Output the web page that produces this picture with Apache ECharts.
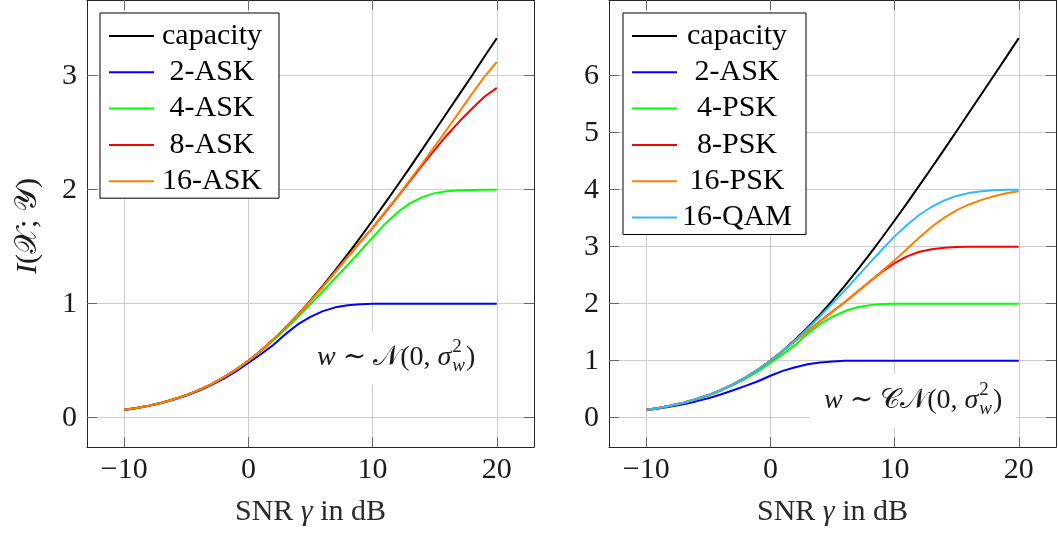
<!DOCTYPE html>
<html>
<head>
<meta charset="utf-8">
<script src="https://cdn.jsdelivr.net/npm/echarts@6/dist/echarts.min.js"></script>
<style>
  html, body { margin: 0; padding: 0; background: #fff; }
  #chart { width: 1058px; height: 534px; }
</style>
</head>
<body>
<div id="chart"></div>
<script>
// SNR grid in dB
const snrDb = [-10,-9,-8,-7,-6,-5,-4,-3,-2,-1,0,1,2,3,4,5,6,7,8,9,10,11,12,13,14,15,16,17,18,19,20];

// Real-valued AWGN channel, w ~ N(0, sigma_w^2)
const realCapacity = [0.069,0.086,0.106,0.131,0.162,0.198,0.242,0.293,0.353,0.422,0.500,
  0.588,0.685,0.791,0.906,1.029,1.158,1.294,1.435,1.580,1.730,
  1.882,2.037,2.194,2.354,2.515,2.677,2.838,3.000,3.166,3.329];
const real2ASK = [0.068,0.085,0.105,0.129,0.159,0.194,0.236,0.285,0.341,0.406,0.480,
  0.557,0.638,0.735,0.820,0.885,0.935,0.968,0.987,0.996,0.999,
  1.000,1.000,1.000,1.000,1.000,1.000,1.000,1.000,1.000,1.000];
const real4ASK = [0.069,0.086,0.106,0.131,0.162,0.198,0.242,0.293,0.352,0.420,0.497,
  0.583,0.677,0.778,0.885,0.995,1.110,1.225,1.340,1.460,1.580,
  1.700,1.800,1.880,1.935,1.970,1.987,1.995,1.998,2.000,2.000];
const real8ASK = [0.069,0.086,0.106,0.131,0.162,0.198,0.242,0.293,0.353,0.422,0.500,
  0.588,0.685,0.790,0.904,1.025,1.150,1.280,1.410,1.540,1.665,
  1.800,1.935,2.075,2.215,2.350,2.480,2.600,2.710,2.815,2.893];
const real16ASK = [0.069,0.086,0.106,0.131,0.162,0.198,0.242,0.293,0.353,0.422,0.500,
  0.588,0.685,0.790,0.904,1.025,1.150,1.280,1.410,1.540,1.665,
  1.805,1.940,2.085,2.230,2.380,2.530,2.685,2.840,2.990,3.120];

// Complex AWGN channel, w ~ CN(0, sigma_w^2)
const cplxCapacity = [0.138,0.171,0.212,0.262,0.323,0.396,0.483,0.586,0.706,0.843,1.000,
  1.175,1.370,1.582,1.812,2.057,2.316,2.588,2.870,3.160,3.459,
  3.764,4.074,4.388,4.707,5.028,5.353,5.677,6.002,6.330,6.658];
const cplx2ASK = [0.129,0.159,0.194,0.236,0.285,0.341,0.406,0.480,0.557,0.638,0.735,
  0.820,0.885,0.935,0.968,0.987,0.996,0.999,1.000,1.000,1.000,
  1.000,1.000,1.000,1.000,1.000,1.000,1.000,1.000,1.000,1.000];
const cplx4PSK = [0.136,0.170,0.210,0.258,0.318,0.388,0.472,0.570,0.682,0.812,0.960,
  1.114,1.276,1.470,1.640,1.770,1.870,1.936,1.974,1.992,1.998,
  2.000,2.000,2.000,2.000,2.000,2.000,2.000,2.000,2.000,2.000];
const cplx8PSK = [0.138,0.171,0.212,0.262,0.323,0.396,0.483,0.585,0.704,0.840,0.995,
  1.170,1.345,1.520,1.690,1.860,2.030,2.210,2.390,2.560,2.710,
  2.830,2.910,2.955,2.980,2.993,2.998,3.000,3.000,3.000,3.000];
const cplx16PSK = [0.138,0.171,0.212,0.262,0.323,0.396,0.483,0.585,0.704,0.840,0.995,
  1.170,1.345,1.520,1.690,1.860,2.030,2.210,2.390,2.575,2.760,
  2.960,3.160,3.350,3.510,3.640,3.740,3.820,3.885,3.935,3.970];
const cplx16QAM = [0.138,0.171,0.212,0.262,0.323,0.396,0.483,0.586,0.705,0.842,0.997,
  1.170,1.360,1.565,1.780,2.005,2.235,2.475,2.715,2.950,3.180,
  3.380,3.560,3.700,3.810,3.890,3.940,3.970,3.990,3.997,4.000];

// Tick labels
const xTicks = [-10, 0, 10, 20];
const yTicksReal = [0, 1, 2, 3];
const yTicksCplx = [0, 1, 2, 3, 4, 5, 6];

const leftNames = ['capacity', '2-ASK', '4-ASK', '8-ASK', '16-ASK'];
const rightNames = ['capacity', '2-ASK', '4-PSK', '8-PSK', '16-PSK', '16-QAM'];
const leftData = [realCapacity, real2ASK, real4ASK, real8ASK, real16ASK];
const rightData = [cplxCapacity, cplx2ASK, cplx4PSK, cplx8PSK, cplx16PSK, cplx16QAM];

const leftColors = ['#000000', '#0000ff', '#00ff00', '#ff0000', '#ff8000'];
const rightColors = ['#000000', '#0000ff', '#00ff00', '#ff0000', '#ff8000', '#33bbee'];

const FONT = "'Liberation Serif', 'DejaVu Serif', serif";
const FS = 30;
const TEXT = '#1a1a1a';

const fmtNum = v => String(v).replace('-', '\u2212');

function pairs(ys) { return snrDb.map((x, i) => [x, ys[i]]); }

function bottomAxis(gridIndex) {
  return {
    type: 'value', gridIndex, min: -13, max: 23, position: 'bottom',
    axisLine: { show: true, onZero: false, lineStyle: { color: '#262626', width: 1 } },
    axisTick: { show: true, inside: true, length: 10, customValues: xTicks, lineStyle: { color: '#666', width: 1 } },
    axisLabel: { customValues: xTicks, formatter: fmtNum, margin: 8, color: TEXT, fontFamily: FONT, fontSize: FS },
    splitLine: { show: true, lineStyle: { color: '#cdcdcd', width: 1 } },
    name: 'SNR {g|\u03b3} in dB',
    nameLocation: 'middle', nameGap: 50,
    nameTextStyle: { color: '#2a2a2a', fontFamily: FONT, fontSize: FS,
      rich: { g: { fontStyle: 'italic', fontFamily: FONT, fontSize: FS, color: '#2a2a2a' } } }
  };
}
function topAxis(gridIndex) {
  return {
    type: 'value', gridIndex, min: -13, max: 23, position: 'top',
    axisLine: { show: true, onZero: false, lineStyle: { color: '#262626', width: 1 } },
    axisTick: { show: true, inside: true, length: 10, customValues: xTicks, lineStyle: { color: '#666', width: 1 } },
    axisLabel: { show: false, customValues: xTicks },
    splitLine: { show: false }
  };
}
function leftAxis(gridIndex, min, max, ticks) {
  return {
    type: 'value', gridIndex, min, max, position: 'left',
    axisLine: { show: true, onZero: false, lineStyle: { color: '#262626', width: 1 } },
    axisTick: { show: true, inside: true, length: 10, customValues: ticks, lineStyle: { color: '#666', width: 1 } },
    axisLabel: { customValues: ticks, formatter: fmtNum, margin: 10, color: TEXT, fontFamily: FONT, fontSize: FS },
    splitLine: { show: true, lineStyle: { color: '#cdcdcd', width: 1 } }
  };
}
function rightAxis(gridIndex, min, max, ticks) {
  return {
    type: 'value', gridIndex, min, max, position: 'right',
    axisLine: { show: true, onZero: false, lineStyle: { color: '#262626', width: 1 } },
    axisTick: { show: true, inside: true, length: 10, customValues: ticks, lineStyle: { color: '#666', width: 1 } },
    axisLabel: { show: false, customValues: ticks },
    splitLine: { show: false }
  };
}

function lineSeries(name, ys, color, axisIdx) {
  return {
    type: 'line', name, data: pairs(ys),
    xAxisIndex: axisIdx, yAxisIndex: axisIdx,
    symbol: 'none', showSymbol: false, smooth: false,
    lineStyle: { color, width: 2 }, itemStyle: { color },
    emphasis: { disabled: true }, silent: true, z: 3
  };
}

function legendFor(names, left, textWidth, padRight) {
  return {
    data: names.map(n => ({ name: n, icon: 'rect' })),
    orient: 'vertical', left, top: 13,
    itemWidth: 45, itemHeight: 2, itemGap: 6.3,
    padding: [8, padRight, 2, 9],
    backgroundColor: '#fff', borderColor: '#000', borderWidth: 1, borderRadius: 0,
    selectedMode: false,
    formatter: n => '{c|' + n + '}',
    textStyle: {
      rich: { c: { width: textWidth, align: 'center', fontFamily: FONT, fontSize: FS, lineHeight: 30, color: '#000' } }
    },
    z: 10
  };
}

const yRealMin = -0.257, yRealMax = 3.664;
const yCplxMin = -0.515, yCplxMax = 7.327;

const chart = echarts.init(document.getElementById('chart'), null, { renderer: 'canvas' });

chart.setOption({
  animation: false,
  backgroundColor: '#fff',
  grid: [
    { left: 87, top: -2, width: 447, height: 449 },
    { left: 609, top: -2, width: 447, height: 449 }
  ],
  xAxis: [bottomAxis(0), topAxis(0), bottomAxis(1), topAxis(1)],
  yAxis: [
    leftAxis(0, yRealMin, yRealMax, yTicksReal), rightAxis(0, yRealMin, yRealMax, yTicksReal),
    leftAxis(1, yCplxMin, yCplxMax, yTicksCplx), rightAxis(1, yCplxMin, yCplxMax, yTicksCplx)
  ],
  legend: [legendFor(leftNames, 100, 106, 14), legendFor(rightNames, 623, 110, 14)],
  series: [
    ...leftNames.map((n, i) => lineSeries(n, leftData[i], leftColors[i], 0)),
    ...rightNames.map((n, i) => lineSeries(n, rightData[i], rightColors[i], 2))
  ]
});

// Math-style annotations, built from measured text pieces
const measureCtx = document.createElement('canvas').getContext('2d');
function fontStr(size, italic) { return (italic ? 'italic ' : '') + size + 'px ' + FONT; }
function textW(t, size, italic) { measureCtx.font = fontStr(size, italic); return measureCtx.measureText(t).width; }

function mathNode(parts, cx, cy) {
  const big = 28, small = 19;
  let w = 0;
  const widths = parts.map(p => {
    const pw = p.stack
      ? Math.max(textW(p.stack[0], small, false), textW(p.stack[1], small, true)) + 2
      : textW(p.t, big, !!p.it);
    w += pw;
    return pw;
  });
  const children = [{
    type: 'rect', shape: { x: cx - w / 2 - 14, y: cy - 26, width: w + 28, height: 53 },
    style: { fill: '#fff' }, silent: true
  }];
  let x = cx - w / 2;
  parts.forEach((p, i) => {
    if (p.stack) {
      children.push({ type: 'text', x: x + 1, y: cy - 11, style: { text: p.stack[0], font: fontStr(small, false), fill: TEXT, verticalAlign: 'middle' } });
      children.push({ type: 'text', x: x + 1, y: cy + 8, style: { text: p.stack[1], font: fontStr(small, true), fill: TEXT, verticalAlign: 'middle' } });
    } else {
      children.push({ type: 'text', x, y: cy, style: { text: p.t, font: fontStr(big, !!p.it), fill: TEXT, verticalAlign: 'middle' } });
    }
    x += widths[i];
  });
  return { type: 'group', children, z: 5 };
}

const pL = chart.convertToPixel({ xAxisIndex: 0, yAxisIndex: 0 }, [11.9, 0.525]);
const pR = chart.convertToPixel({ xAxisIndex: 2, yAxisIndex: 2 }, [11.5, 0.30]);

chart.setOption({
  graphic: [
    mathNode([{ t: 'w', it: true }, { t: ' \u223c ' }, { t: '\ud835\udca9' }, { t: '(0, ' }, { t: '\u03c3', it: true }, { stack: ['2', 'w'] }, { t: ')' }], pL[0], pL[1]),
    mathNode([{ t: 'w', it: true }, { t: ' \u223c ' }, { t: '\ud835\udc9e\ud835\udca9' }, { t: '(0, ' }, { t: '\u03c3', it: true }, { stack: ['2', 'w'] }, { t: ')' }], pR[0], pR[1]),
    {
      type: 'text', x: 28, y: 226, rotation: Math.PI / 2,
      style: {
        text: '{i|I}({s|\ud835\udcb3}; {s|\ud835\udcb4})',
        font: fontStr(FS, false), fill: TEXT, align: 'center', verticalAlign: 'middle',
        rich: { i: { fontStyle: 'italic', fontFamily: FONT, fontSize: FS, fill: TEXT }, s: { fontFamily: FONT, fontSize: FS, fill: TEXT } }
      }
    }
  ]
});
</script>
</body>
</html>
